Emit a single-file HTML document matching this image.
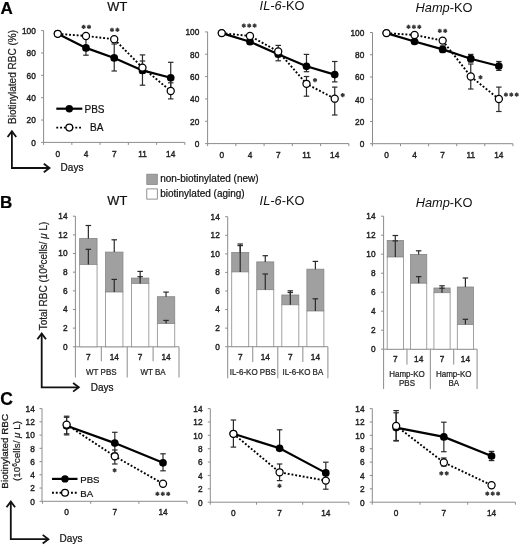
<!DOCTYPE html>
<html><head><meta charset="utf-8"><title>Figure</title>
<style>
html,body{margin:0;padding:0;background:#fff;}
body{width:520px;height:545px;overflow:hidden;}
svg{display:block;font-family:"Liberation Sans", sans-serif;will-change:transform;}
</style></head>
<body>
<svg width="520" height="545" viewBox="0 0 520 545">
<rect width="520" height="545" fill="#fff"/>
<text x="0.60" y="14.00" font-size="17" text-anchor="start" font-weight="bold" font-style="normal" fill="#000" stroke="#000" stroke-width="0.22" >A</text>
<text x="0.00" y="208.20" font-size="17" text-anchor="start" font-weight="bold" font-style="normal" fill="#000" stroke="#000" stroke-width="0.22" >B</text>
<text x="0.20" y="404.60" font-size="17.5" text-anchor="start" font-weight="bold" font-style="normal" fill="#000" stroke="#000" stroke-width="0.22" >C</text>
<text x="117.30" y="11.00" font-size="12.8" text-anchor="middle" font-weight="normal" font-style="normal" fill="#111" stroke="#111" stroke-width="0.22" >WT</text>
<text x="282" y="10.4" font-size="12.8" text-anchor="middle" fill="#111"><tspan font-style="italic">IL-6</tspan>-KO</text>
<text x="444" y="12" font-size="12.8" text-anchor="middle" fill="#111"><tspan font-style="italic">Hamp</tspan>-KO</text>
<line x1="43.60" y1="30.60" x2="43.60" y2="142.40" stroke="#8c8c8c" stroke-width="1" />
<line x1="41.10" y1="30.60" x2="43.60" y2="30.60" stroke="#8c8c8c" stroke-width="1" />
<text transform="translate(35.80 34.00) scale(1 1.1)" font-size="8.3" text-anchor="end" font-weight="normal" font-style="normal" fill="#1e1e1e" stroke="#1e1e1e" stroke-width="0.38" >100</text>
<line x1="41.10" y1="52.96" x2="43.60" y2="52.96" stroke="#8c8c8c" stroke-width="1" />
<text transform="translate(35.80 56.36) scale(1 1.1)" font-size="8.3" text-anchor="end" font-weight="normal" font-style="normal" fill="#1e1e1e" stroke="#1e1e1e" stroke-width="0.38" >80</text>
<line x1="41.10" y1="75.32" x2="43.60" y2="75.32" stroke="#8c8c8c" stroke-width="1" />
<text transform="translate(35.80 78.72) scale(1 1.1)" font-size="8.3" text-anchor="end" font-weight="normal" font-style="normal" fill="#1e1e1e" stroke="#1e1e1e" stroke-width="0.38" >60</text>
<line x1="41.10" y1="97.68" x2="43.60" y2="97.68" stroke="#8c8c8c" stroke-width="1" />
<text transform="translate(35.80 101.08) scale(1 1.1)" font-size="8.3" text-anchor="end" font-weight="normal" font-style="normal" fill="#1e1e1e" stroke="#1e1e1e" stroke-width="0.38" >40</text>
<line x1="41.10" y1="120.04" x2="43.60" y2="120.04" stroke="#8c8c8c" stroke-width="1" />
<text transform="translate(35.80 123.44) scale(1 1.1)" font-size="8.3" text-anchor="end" font-weight="normal" font-style="normal" fill="#1e1e1e" stroke="#1e1e1e" stroke-width="0.38" >20</text>
<line x1="41.10" y1="142.40" x2="43.60" y2="142.40" stroke="#8c8c8c" stroke-width="1" />
<text transform="translate(35.80 145.80) scale(1 1.1)" font-size="8.3" text-anchor="end" font-weight="normal" font-style="normal" fill="#1e1e1e" stroke="#1e1e1e" stroke-width="0.38" >0</text>
<line x1="43.60" y1="142.40" x2="184.85" y2="142.40" stroke="#8c8c8c" stroke-width="1" />
<line x1="43.60" y1="142.40" x2="43.60" y2="144.90" stroke="#8c8c8c" stroke-width="1" />
<line x1="71.85" y1="142.40" x2="71.85" y2="144.90" stroke="#8c8c8c" stroke-width="1" />
<line x1="100.10" y1="142.40" x2="100.10" y2="144.90" stroke="#8c8c8c" stroke-width="1" />
<line x1="128.35" y1="142.40" x2="128.35" y2="144.90" stroke="#8c8c8c" stroke-width="1" />
<line x1="156.60" y1="142.40" x2="156.60" y2="144.90" stroke="#8c8c8c" stroke-width="1" />
<line x1="184.85" y1="142.40" x2="184.85" y2="144.90" stroke="#8c8c8c" stroke-width="1" />
<text transform="translate(57.73 156.80) scale(1 1.1)" font-size="8.3" text-anchor="middle" font-weight="normal" font-style="normal" fill="#1e1e1e" stroke="#1e1e1e" stroke-width="0.38" >0</text>
<text transform="translate(85.97 156.80) scale(1 1.1)" font-size="8.3" text-anchor="middle" font-weight="normal" font-style="normal" fill="#1e1e1e" stroke="#1e1e1e" stroke-width="0.38" >4</text>
<text transform="translate(114.22 156.80) scale(1 1.1)" font-size="8.3" text-anchor="middle" font-weight="normal" font-style="normal" fill="#1e1e1e" stroke="#1e1e1e" stroke-width="0.38" >7</text>
<text transform="translate(142.47 156.80) scale(1 1.1)" font-size="8.3" text-anchor="middle" font-weight="normal" font-style="normal" fill="#1e1e1e" stroke="#1e1e1e" stroke-width="0.38" >11</text>
<text transform="translate(170.72 156.80) scale(1 1.1)" font-size="8.3" text-anchor="middle" font-weight="normal" font-style="normal" fill="#1e1e1e" stroke="#1e1e1e" stroke-width="0.38" >14</text>
<line x1="85.97" y1="37.50" x2="85.97" y2="55.20" stroke="#2a2a2a" stroke-width="1.2" />
<line x1="83.22" y1="37.50" x2="88.72" y2="37.50" stroke="#2a2a2a" stroke-width="1.2" />
<line x1="83.22" y1="55.20" x2="88.72" y2="55.20" stroke="#2a2a2a" stroke-width="1.2" />
<line x1="114.22" y1="44.00" x2="114.22" y2="71.00" stroke="#2a2a2a" stroke-width="1.2" />
<line x1="111.47" y1="44.00" x2="116.97" y2="44.00" stroke="#2a2a2a" stroke-width="1.2" />
<line x1="111.47" y1="71.00" x2="116.97" y2="71.00" stroke="#2a2a2a" stroke-width="1.2" />
<line x1="142.47" y1="54.90" x2="142.47" y2="85.20" stroke="#2a2a2a" stroke-width="1.2" />
<line x1="139.72" y1="54.90" x2="145.22" y2="54.90" stroke="#2a2a2a" stroke-width="1.2" />
<line x1="139.72" y1="85.20" x2="145.22" y2="85.20" stroke="#2a2a2a" stroke-width="1.2" />
<line x1="142.47" y1="61.00" x2="142.47" y2="73.40" stroke="#2a2a2a" stroke-width="1.2" />
<line x1="139.72" y1="61.00" x2="145.22" y2="61.00" stroke="#2a2a2a" stroke-width="1.2" />
<line x1="139.72" y1="73.40" x2="145.22" y2="73.40" stroke="#2a2a2a" stroke-width="1.2" />
<line x1="170.72" y1="62.30" x2="170.72" y2="92.50" stroke="#2a2a2a" stroke-width="1.2" />
<line x1="167.97" y1="62.30" x2="173.47" y2="62.30" stroke="#2a2a2a" stroke-width="1.2" />
<line x1="167.97" y1="92.50" x2="173.47" y2="92.50" stroke="#2a2a2a" stroke-width="1.2" />
<line x1="170.72" y1="82.80" x2="170.72" y2="98.90" stroke="#2a2a2a" stroke-width="1.2" />
<line x1="167.97" y1="82.80" x2="173.47" y2="82.80" stroke="#2a2a2a" stroke-width="1.2" />
<line x1="167.97" y1="98.90" x2="173.47" y2="98.90" stroke="#2a2a2a" stroke-width="1.2" />
<path d="M57.73,33.80 L85.97,47.90 L114.22,57.90 L142.47,70.40 L170.72,77.80" fill="none" stroke="#000" stroke-width="2.2"/>
<circle cx="57.73" cy="33.80" r="3.85" fill="#000"/>
<circle cx="85.97" cy="47.90" r="3.85" fill="#000"/>
<circle cx="114.22" cy="57.90" r="3.85" fill="#000"/>
<circle cx="142.47" cy="70.40" r="3.85" fill="#000"/>
<circle cx="170.72" cy="77.80" r="3.85" fill="#000"/>
<path d="M57.73,33.80 L85.97,36.00 L114.22,39.20 L142.47,67.60 L170.72,91.00" fill="none" stroke="#000" stroke-width="1.9" stroke-dasharray="1.9,1.9"/>
<circle cx="57.73" cy="33.80" r="3.55" fill="#fff" stroke="#000" stroke-width="1.25"/>
<circle cx="85.97" cy="36.00" r="3.55" fill="#fff" stroke="#000" stroke-width="1.25"/>
<circle cx="114.22" cy="39.20" r="3.55" fill="#fff" stroke="#000" stroke-width="1.25"/>
<circle cx="142.47" cy="67.60" r="3.55" fill="#fff" stroke="#000" stroke-width="1.25"/>
<circle cx="170.72" cy="91.00" r="3.55" fill="#fff" stroke="#000" stroke-width="1.25"/>
<line x1="83.60" y1="24.80" x2="83.60" y2="29.00" stroke="#363636" stroke-width="1.35"/>
<line x1="81.78" y1="25.85" x2="85.42" y2="27.95" stroke="#363636" stroke-width="1.35"/>
<line x1="81.78" y1="27.95" x2="85.42" y2="25.85" stroke="#363636" stroke-width="1.35"/>
<line x1="89.00" y1="24.80" x2="89.00" y2="29.00" stroke="#363636" stroke-width="1.35"/>
<line x1="87.18" y1="25.85" x2="90.82" y2="27.95" stroke="#363636" stroke-width="1.35"/>
<line x1="87.18" y1="27.95" x2="90.82" y2="25.85" stroke="#363636" stroke-width="1.35"/>
<line x1="112.00" y1="27.70" x2="112.00" y2="31.90" stroke="#363636" stroke-width="1.35"/>
<line x1="110.18" y1="28.75" x2="113.82" y2="30.85" stroke="#363636" stroke-width="1.35"/>
<line x1="110.18" y1="30.85" x2="113.82" y2="28.75" stroke="#363636" stroke-width="1.35"/>
<line x1="117.40" y1="27.70" x2="117.40" y2="31.90" stroke="#363636" stroke-width="1.35"/>
<line x1="115.58" y1="28.75" x2="119.22" y2="30.85" stroke="#363636" stroke-width="1.35"/>
<line x1="115.58" y1="30.85" x2="119.22" y2="28.75" stroke="#363636" stroke-width="1.35"/>
<line x1="56.30" y1="108.70" x2="82.30" y2="108.70" stroke="#000" stroke-width="2.2" />
<circle cx="69.3" cy="108.7" r="3.7" fill="#000"/>
<text x="84.50" y="112.80" font-size="10" text-anchor="start" font-weight="normal" font-style="normal" fill="#111" stroke="#111" stroke-width="0.22" >PBS</text>
<line x1="56.30" y1="127.60" x2="82.00" y2="127.60" stroke="#000" stroke-width="1.9" stroke-dasharray="1.9,1.9"/>
<circle cx="69.3" cy="127.6" r="3.4" fill="#fff" stroke="#000" stroke-width="1.25"/>
<text x="90.00" y="130.90" font-size="10" text-anchor="start" font-weight="normal" font-style="normal" fill="#111" stroke="#111" stroke-width="0.22" >BA</text>
<text x="16.30" y="77.00" font-size="10" text-anchor="middle" font-weight="normal" font-style="normal" fill="#1e1e1e" stroke="#1e1e1e" stroke-width="0.22" transform="rotate(-90 16.3 77)">Biotinylated RBC (%)</text>
<path d="M11.9,131.5 L11.9,168.0 L49.3,168.0" fill="none" stroke="#111" stroke-width="1.8"/>
<path d="M7.6000000000000005,137.0 L11.9,131.3 L16.2,137.0" fill="none" stroke="#111" stroke-width="1.8"/>
<path d="M43.8,163.7 L49.5,168.0 L43.8,172.3" fill="none" stroke="#111" stroke-width="1.8"/>
<text x="60.60" y="171.20" font-size="10" text-anchor="start" font-weight="normal" font-style="normal" fill="#111" stroke="#111" stroke-width="0.22" >Days</text>
<line x1="207.60" y1="31.90" x2="207.60" y2="143.60" stroke="#8c8c8c" stroke-width="1" />
<line x1="205.10" y1="31.90" x2="207.60" y2="31.90" stroke="#8c8c8c" stroke-width="1" />
<text transform="translate(199.30 35.30) scale(1 1.1)" font-size="8.3" text-anchor="end" font-weight="normal" font-style="normal" fill="#1e1e1e" stroke="#1e1e1e" stroke-width="0.38" >100</text>
<line x1="205.10" y1="54.24" x2="207.60" y2="54.24" stroke="#8c8c8c" stroke-width="1" />
<text transform="translate(199.30 57.64) scale(1 1.1)" font-size="8.3" text-anchor="end" font-weight="normal" font-style="normal" fill="#1e1e1e" stroke="#1e1e1e" stroke-width="0.38" >80</text>
<line x1="205.10" y1="76.58" x2="207.60" y2="76.58" stroke="#8c8c8c" stroke-width="1" />
<text transform="translate(199.30 79.98) scale(1 1.1)" font-size="8.3" text-anchor="end" font-weight="normal" font-style="normal" fill="#1e1e1e" stroke="#1e1e1e" stroke-width="0.38" >60</text>
<line x1="205.10" y1="98.92" x2="207.60" y2="98.92" stroke="#8c8c8c" stroke-width="1" />
<text transform="translate(199.30 102.32) scale(1 1.1)" font-size="8.3" text-anchor="end" font-weight="normal" font-style="normal" fill="#1e1e1e" stroke="#1e1e1e" stroke-width="0.38" >40</text>
<line x1="205.10" y1="121.26" x2="207.60" y2="121.26" stroke="#8c8c8c" stroke-width="1" />
<text transform="translate(199.30 124.66) scale(1 1.1)" font-size="8.3" text-anchor="end" font-weight="normal" font-style="normal" fill="#1e1e1e" stroke="#1e1e1e" stroke-width="0.38" >20</text>
<line x1="205.10" y1="143.60" x2="207.60" y2="143.60" stroke="#8c8c8c" stroke-width="1" />
<text transform="translate(199.30 147.00) scale(1 1.1)" font-size="8.3" text-anchor="end" font-weight="normal" font-style="normal" fill="#1e1e1e" stroke="#1e1e1e" stroke-width="0.38" >0</text>
<line x1="207.60" y1="143.60" x2="348.85" y2="143.60" stroke="#8c8c8c" stroke-width="1" />
<line x1="207.60" y1="143.60" x2="207.60" y2="146.10" stroke="#8c8c8c" stroke-width="1" />
<line x1="235.85" y1="143.60" x2="235.85" y2="146.10" stroke="#8c8c8c" stroke-width="1" />
<line x1="264.10" y1="143.60" x2="264.10" y2="146.10" stroke="#8c8c8c" stroke-width="1" />
<line x1="292.35" y1="143.60" x2="292.35" y2="146.10" stroke="#8c8c8c" stroke-width="1" />
<line x1="320.60" y1="143.60" x2="320.60" y2="146.10" stroke="#8c8c8c" stroke-width="1" />
<line x1="348.85" y1="143.60" x2="348.85" y2="146.10" stroke="#8c8c8c" stroke-width="1" />
<text transform="translate(221.72 158.00) scale(1 1.1)" font-size="8.3" text-anchor="middle" font-weight="normal" font-style="normal" fill="#1e1e1e" stroke="#1e1e1e" stroke-width="0.38" >0</text>
<text transform="translate(249.97 158.00) scale(1 1.1)" font-size="8.3" text-anchor="middle" font-weight="normal" font-style="normal" fill="#1e1e1e" stroke="#1e1e1e" stroke-width="0.38" >4</text>
<text transform="translate(278.23 158.00) scale(1 1.1)" font-size="8.3" text-anchor="middle" font-weight="normal" font-style="normal" fill="#1e1e1e" stroke="#1e1e1e" stroke-width="0.38" >7</text>
<text transform="translate(306.48 158.00) scale(1 1.1)" font-size="8.3" text-anchor="middle" font-weight="normal" font-style="normal" fill="#1e1e1e" stroke="#1e1e1e" stroke-width="0.38" >11</text>
<text transform="translate(334.73 158.00) scale(1 1.1)" font-size="8.3" text-anchor="middle" font-weight="normal" font-style="normal" fill="#1e1e1e" stroke="#1e1e1e" stroke-width="0.38" >14</text>
<line x1="278.23" y1="45.40" x2="278.23" y2="60.80" stroke="#2a2a2a" stroke-width="1.2" />
<line x1="275.48" y1="45.40" x2="280.98" y2="45.40" stroke="#2a2a2a" stroke-width="1.2" />
<line x1="275.48" y1="60.80" x2="280.98" y2="60.80" stroke="#2a2a2a" stroke-width="1.2" />
<line x1="306.48" y1="54.40" x2="306.48" y2="71.70" stroke="#2a2a2a" stroke-width="1.2" />
<line x1="303.73" y1="54.40" x2="309.23" y2="54.40" stroke="#2a2a2a" stroke-width="1.2" />
<line x1="303.73" y1="71.70" x2="309.23" y2="71.70" stroke="#2a2a2a" stroke-width="1.2" />
<line x1="306.48" y1="76.50" x2="306.48" y2="96.20" stroke="#2a2a2a" stroke-width="1.2" />
<line x1="303.73" y1="76.50" x2="309.23" y2="76.50" stroke="#2a2a2a" stroke-width="1.2" />
<line x1="303.73" y1="96.20" x2="309.23" y2="96.20" stroke="#2a2a2a" stroke-width="1.2" />
<line x1="334.73" y1="61.50" x2="334.73" y2="81.90" stroke="#2a2a2a" stroke-width="1.2" />
<line x1="331.98" y1="61.50" x2="337.48" y2="61.50" stroke="#2a2a2a" stroke-width="1.2" />
<line x1="331.98" y1="81.90" x2="337.48" y2="81.90" stroke="#2a2a2a" stroke-width="1.2" />
<line x1="334.73" y1="87.10" x2="334.73" y2="115.00" stroke="#2a2a2a" stroke-width="1.2" />
<line x1="331.98" y1="87.10" x2="337.48" y2="87.10" stroke="#2a2a2a" stroke-width="1.2" />
<line x1="331.98" y1="115.00" x2="337.48" y2="115.00" stroke="#2a2a2a" stroke-width="1.2" />
<path d="M221.72,33.10 L249.97,41.70 L278.23,54.20 L306.48,66.30 L334.73,74.60" fill="none" stroke="#000" stroke-width="2.2"/>
<circle cx="221.72" cy="33.10" r="3.85" fill="#000"/>
<circle cx="249.97" cy="41.70" r="3.85" fill="#000"/>
<circle cx="278.23" cy="54.20" r="3.85" fill="#000"/>
<circle cx="306.48" cy="66.30" r="3.85" fill="#000"/>
<circle cx="334.73" cy="74.60" r="3.85" fill="#000"/>
<path d="M221.72,33.10 L249.97,36.00 L278.23,51.50 L306.48,83.80 L334.73,98.70" fill="none" stroke="#000" stroke-width="1.9" stroke-dasharray="1.9,1.9"/>
<circle cx="221.72" cy="33.10" r="3.55" fill="#fff" stroke="#000" stroke-width="1.25"/>
<circle cx="249.97" cy="36.00" r="3.55" fill="#fff" stroke="#000" stroke-width="1.25"/>
<circle cx="278.23" cy="51.50" r="3.55" fill="#fff" stroke="#000" stroke-width="1.25"/>
<circle cx="306.48" cy="83.80" r="3.55" fill="#fff" stroke="#000" stroke-width="1.25"/>
<circle cx="334.73" cy="98.70" r="3.55" fill="#fff" stroke="#000" stroke-width="1.25"/>
<line x1="243.80" y1="23.50" x2="243.80" y2="27.70" stroke="#363636" stroke-width="1.35"/>
<line x1="241.98" y1="24.55" x2="245.62" y2="26.65" stroke="#363636" stroke-width="1.35"/>
<line x1="241.98" y1="26.65" x2="245.62" y2="24.55" stroke="#363636" stroke-width="1.35"/>
<line x1="249.20" y1="23.50" x2="249.20" y2="27.70" stroke="#363636" stroke-width="1.35"/>
<line x1="247.38" y1="24.55" x2="251.02" y2="26.65" stroke="#363636" stroke-width="1.35"/>
<line x1="247.38" y1="26.65" x2="251.02" y2="24.55" stroke="#363636" stroke-width="1.35"/>
<line x1="254.60" y1="23.50" x2="254.60" y2="27.70" stroke="#363636" stroke-width="1.35"/>
<line x1="252.78" y1="24.55" x2="256.42" y2="26.65" stroke="#363636" stroke-width="1.35"/>
<line x1="252.78" y1="26.65" x2="256.42" y2="24.55" stroke="#363636" stroke-width="1.35"/>
<line x1="315.00" y1="78.00" x2="315.00" y2="82.20" stroke="#363636" stroke-width="1.35"/>
<line x1="313.18" y1="79.05" x2="316.82" y2="81.15" stroke="#363636" stroke-width="1.35"/>
<line x1="313.18" y1="81.15" x2="316.82" y2="79.05" stroke="#363636" stroke-width="1.35"/>
<line x1="342.70" y1="93.00" x2="342.70" y2="97.20" stroke="#363636" stroke-width="1.35"/>
<line x1="340.88" y1="94.05" x2="344.52" y2="96.15" stroke="#363636" stroke-width="1.35"/>
<line x1="340.88" y1="96.15" x2="344.52" y2="94.05" stroke="#363636" stroke-width="1.35"/>
<line x1="372.50" y1="32.50" x2="372.50" y2="143.70" stroke="#8c8c8c" stroke-width="1" />
<line x1="370.00" y1="32.50" x2="372.50" y2="32.50" stroke="#8c8c8c" stroke-width="1" />
<text transform="translate(364.30 35.90) scale(1 1.1)" font-size="8.3" text-anchor="end" font-weight="normal" font-style="normal" fill="#1e1e1e" stroke="#1e1e1e" stroke-width="0.38" >100</text>
<line x1="370.00" y1="54.74" x2="372.50" y2="54.74" stroke="#8c8c8c" stroke-width="1" />
<text transform="translate(364.30 58.14) scale(1 1.1)" font-size="8.3" text-anchor="end" font-weight="normal" font-style="normal" fill="#1e1e1e" stroke="#1e1e1e" stroke-width="0.38" >80</text>
<line x1="370.00" y1="76.98" x2="372.50" y2="76.98" stroke="#8c8c8c" stroke-width="1" />
<text transform="translate(364.30 80.38) scale(1 1.1)" font-size="8.3" text-anchor="end" font-weight="normal" font-style="normal" fill="#1e1e1e" stroke="#1e1e1e" stroke-width="0.38" >60</text>
<line x1="370.00" y1="99.22" x2="372.50" y2="99.22" stroke="#8c8c8c" stroke-width="1" />
<text transform="translate(364.30 102.62) scale(1 1.1)" font-size="8.3" text-anchor="end" font-weight="normal" font-style="normal" fill="#1e1e1e" stroke="#1e1e1e" stroke-width="0.38" >40</text>
<line x1="370.00" y1="121.46" x2="372.50" y2="121.46" stroke="#8c8c8c" stroke-width="1" />
<text transform="translate(364.30 124.86) scale(1 1.1)" font-size="8.3" text-anchor="end" font-weight="normal" font-style="normal" fill="#1e1e1e" stroke="#1e1e1e" stroke-width="0.38" >20</text>
<line x1="370.00" y1="143.70" x2="372.50" y2="143.70" stroke="#8c8c8c" stroke-width="1" />
<text transform="translate(364.30 147.10) scale(1 1.1)" font-size="8.3" text-anchor="end" font-weight="normal" font-style="normal" fill="#1e1e1e" stroke="#1e1e1e" stroke-width="0.38" >0</text>
<line x1="372.50" y1="143.70" x2="512.90" y2="143.70" stroke="#8c8c8c" stroke-width="1" />
<line x1="372.40" y1="143.70" x2="372.40" y2="146.20" stroke="#8c8c8c" stroke-width="1" />
<line x1="400.50" y1="143.70" x2="400.50" y2="146.20" stroke="#8c8c8c" stroke-width="1" />
<line x1="428.60" y1="143.70" x2="428.60" y2="146.20" stroke="#8c8c8c" stroke-width="1" />
<line x1="456.70" y1="143.70" x2="456.70" y2="146.20" stroke="#8c8c8c" stroke-width="1" />
<line x1="484.80" y1="143.70" x2="484.80" y2="146.20" stroke="#8c8c8c" stroke-width="1" />
<line x1="512.90" y1="143.70" x2="512.90" y2="146.20" stroke="#8c8c8c" stroke-width="1" />
<text transform="translate(386.45 158.10) scale(1 1.1)" font-size="8.3" text-anchor="middle" font-weight="normal" font-style="normal" fill="#1e1e1e" stroke="#1e1e1e" stroke-width="0.38" >0</text>
<text transform="translate(414.55 158.10) scale(1 1.1)" font-size="8.3" text-anchor="middle" font-weight="normal" font-style="normal" fill="#1e1e1e" stroke="#1e1e1e" stroke-width="0.38" >4</text>
<text transform="translate(442.65 158.10) scale(1 1.1)" font-size="8.3" text-anchor="middle" font-weight="normal" font-style="normal" fill="#1e1e1e" stroke="#1e1e1e" stroke-width="0.38" >7</text>
<text transform="translate(470.75 158.10) scale(1 1.1)" font-size="8.3" text-anchor="middle" font-weight="normal" font-style="normal" fill="#1e1e1e" stroke="#1e1e1e" stroke-width="0.38" >11</text>
<text transform="translate(498.85 158.10) scale(1 1.1)" font-size="8.3" text-anchor="middle" font-weight="normal" font-style="normal" fill="#1e1e1e" stroke="#1e1e1e" stroke-width="0.38" >14</text>
<line x1="442.65" y1="46.00" x2="442.65" y2="52.50" stroke="#2a2a2a" stroke-width="1.2" />
<line x1="439.90" y1="46.00" x2="445.40" y2="46.00" stroke="#2a2a2a" stroke-width="1.2" />
<line x1="439.90" y1="52.50" x2="445.40" y2="52.50" stroke="#2a2a2a" stroke-width="1.2" />
<line x1="470.75" y1="54.40" x2="470.75" y2="62.00" stroke="#2a2a2a" stroke-width="1.2" />
<line x1="468.00" y1="54.40" x2="473.50" y2="54.40" stroke="#2a2a2a" stroke-width="1.2" />
<line x1="468.00" y1="62.00" x2="473.50" y2="62.00" stroke="#2a2a2a" stroke-width="1.2" />
<line x1="470.75" y1="64.00" x2="470.75" y2="89.00" stroke="#2a2a2a" stroke-width="1.2" />
<line x1="468.00" y1="64.00" x2="473.50" y2="64.00" stroke="#2a2a2a" stroke-width="1.2" />
<line x1="468.00" y1="89.00" x2="473.50" y2="89.00" stroke="#2a2a2a" stroke-width="1.2" />
<line x1="498.85" y1="61.50" x2="498.85" y2="70.40" stroke="#2a2a2a" stroke-width="1.2" />
<line x1="496.10" y1="61.50" x2="501.60" y2="61.50" stroke="#2a2a2a" stroke-width="1.2" />
<line x1="496.10" y1="70.40" x2="501.60" y2="70.40" stroke="#2a2a2a" stroke-width="1.2" />
<line x1="498.85" y1="87.10" x2="498.85" y2="111.50" stroke="#2a2a2a" stroke-width="1.2" />
<line x1="496.10" y1="87.10" x2="501.60" y2="87.10" stroke="#2a2a2a" stroke-width="1.2" />
<line x1="496.10" y1="111.50" x2="501.60" y2="111.50" stroke="#2a2a2a" stroke-width="1.2" />
<path d="M386.45,33.10 L414.55,41.50 L442.65,49.40 L470.75,58.70 L498.85,66.00" fill="none" stroke="#000" stroke-width="2.2"/>
<circle cx="386.45" cy="33.10" r="3.85" fill="#000"/>
<circle cx="414.55" cy="41.50" r="3.85" fill="#000"/>
<circle cx="442.65" cy="49.40" r="3.85" fill="#000"/>
<circle cx="470.75" cy="58.70" r="3.85" fill="#000"/>
<circle cx="498.85" cy="66.00" r="3.85" fill="#000"/>
<path d="M386.45,33.10 L414.55,35.00 L442.65,40.60 L470.75,76.50 L498.85,99.00" fill="none" stroke="#000" stroke-width="1.9" stroke-dasharray="1.9,1.9"/>
<circle cx="386.45" cy="33.10" r="3.55" fill="#fff" stroke="#000" stroke-width="1.25"/>
<circle cx="414.55" cy="35.00" r="3.55" fill="#fff" stroke="#000" stroke-width="1.25"/>
<circle cx="442.65" cy="40.60" r="3.55" fill="#fff" stroke="#000" stroke-width="1.25"/>
<circle cx="470.75" cy="76.50" r="3.55" fill="#fff" stroke="#000" stroke-width="1.25"/>
<circle cx="498.85" cy="99.00" r="3.55" fill="#fff" stroke="#000" stroke-width="1.25"/>
<line x1="408.50" y1="24.70" x2="408.50" y2="28.90" stroke="#363636" stroke-width="1.35"/>
<line x1="406.68" y1="25.75" x2="410.32" y2="27.85" stroke="#363636" stroke-width="1.35"/>
<line x1="406.68" y1="27.85" x2="410.32" y2="25.75" stroke="#363636" stroke-width="1.35"/>
<line x1="413.90" y1="24.70" x2="413.90" y2="28.90" stroke="#363636" stroke-width="1.35"/>
<line x1="412.08" y1="25.75" x2="415.72" y2="27.85" stroke="#363636" stroke-width="1.35"/>
<line x1="412.08" y1="27.85" x2="415.72" y2="25.75" stroke="#363636" stroke-width="1.35"/>
<line x1="419.30" y1="24.70" x2="419.30" y2="28.90" stroke="#363636" stroke-width="1.35"/>
<line x1="417.48" y1="25.75" x2="421.12" y2="27.85" stroke="#363636" stroke-width="1.35"/>
<line x1="417.48" y1="27.85" x2="421.12" y2="25.75" stroke="#363636" stroke-width="1.35"/>
<line x1="439.80" y1="28.70" x2="439.80" y2="32.90" stroke="#363636" stroke-width="1.35"/>
<line x1="437.98" y1="29.75" x2="441.62" y2="31.85" stroke="#363636" stroke-width="1.35"/>
<line x1="437.98" y1="31.85" x2="441.62" y2="29.75" stroke="#363636" stroke-width="1.35"/>
<line x1="445.20" y1="28.70" x2="445.20" y2="32.90" stroke="#363636" stroke-width="1.35"/>
<line x1="443.38" y1="29.75" x2="447.02" y2="31.85" stroke="#363636" stroke-width="1.35"/>
<line x1="443.38" y1="31.85" x2="447.02" y2="29.75" stroke="#363636" stroke-width="1.35"/>
<line x1="480.50" y1="75.20" x2="480.50" y2="79.40" stroke="#363636" stroke-width="1.35"/>
<line x1="478.68" y1="76.25" x2="482.32" y2="78.35" stroke="#363636" stroke-width="1.35"/>
<line x1="478.68" y1="78.35" x2="482.32" y2="76.25" stroke="#363636" stroke-width="1.35"/>
<line x1="505.90" y1="92.50" x2="505.90" y2="96.70" stroke="#363636" stroke-width="1.35"/>
<line x1="504.08" y1="93.55" x2="507.72" y2="95.65" stroke="#363636" stroke-width="1.35"/>
<line x1="504.08" y1="95.65" x2="507.72" y2="93.55" stroke="#363636" stroke-width="1.35"/>
<line x1="511.30" y1="92.50" x2="511.30" y2="96.70" stroke="#363636" stroke-width="1.35"/>
<line x1="509.48" y1="93.55" x2="513.12" y2="95.65" stroke="#363636" stroke-width="1.35"/>
<line x1="509.48" y1="95.65" x2="513.12" y2="93.55" stroke="#363636" stroke-width="1.35"/>
<line x1="516.70" y1="92.50" x2="516.70" y2="96.70" stroke="#363636" stroke-width="1.35"/>
<line x1="514.88" y1="93.55" x2="518.52" y2="95.65" stroke="#363636" stroke-width="1.35"/>
<line x1="514.88" y1="95.65" x2="518.52" y2="93.55" stroke="#363636" stroke-width="1.35"/>
<rect x="146.8" y="174.2" width="10.5" height="10.2" fill="#a0a0a0" stroke="#858585" stroke-width="0.8"/>
<rect x="146.8" y="188.9" width="10.5" height="10.2" fill="#fff" stroke="#777" stroke-width="0.8"/>
<text x="160.20" y="182.30" font-size="10" text-anchor="start" font-weight="normal" font-style="normal" fill="#111" stroke="#111" stroke-width="0.22" >non-biotinylated (new)</text>
<text x="160.20" y="196.60" font-size="10" text-anchor="start" font-weight="normal" font-style="normal" fill="#111" stroke="#111" stroke-width="0.22" >biotinylated (aging)</text>
<text x="117.30" y="205.30" font-size="12.8" text-anchor="middle" font-weight="normal" font-style="normal" fill="#111" stroke="#111" stroke-width="0.22" >WT</text>
<text x="282" y="204.6" font-size="12.8" text-anchor="middle" fill="#111"><tspan font-style="italic">IL-6</tspan>-KO</text>
<text x="444.1" y="206.8" font-size="12.8" text-anchor="middle" fill="#111"><tspan font-style="italic">Hamp</tspan>-KO</text>
<line x1="75.40" y1="216.20" x2="75.40" y2="346.80" stroke="#8c8c8c" stroke-width="1" />
<line x1="72.90" y1="216.20" x2="75.40" y2="216.20" stroke="#8c8c8c" stroke-width="1" />
<text transform="translate(67.50 219.10) scale(1 1.1)" font-size="8.3" text-anchor="end" font-weight="normal" font-style="normal" fill="#1e1e1e" stroke="#1e1e1e" stroke-width="0.38" >14</text>
<line x1="72.90" y1="234.86" x2="75.40" y2="234.86" stroke="#8c8c8c" stroke-width="1" />
<text transform="translate(67.50 237.76) scale(1 1.1)" font-size="8.3" text-anchor="end" font-weight="normal" font-style="normal" fill="#1e1e1e" stroke="#1e1e1e" stroke-width="0.38" >12</text>
<line x1="72.90" y1="253.51" x2="75.40" y2="253.51" stroke="#8c8c8c" stroke-width="1" />
<text transform="translate(67.50 256.41) scale(1 1.1)" font-size="8.3" text-anchor="end" font-weight="normal" font-style="normal" fill="#1e1e1e" stroke="#1e1e1e" stroke-width="0.38" >10</text>
<line x1="72.90" y1="272.17" x2="75.40" y2="272.17" stroke="#8c8c8c" stroke-width="1" />
<text transform="translate(67.50 275.07) scale(1 1.1)" font-size="8.3" text-anchor="end" font-weight="normal" font-style="normal" fill="#1e1e1e" stroke="#1e1e1e" stroke-width="0.38" >8</text>
<line x1="72.90" y1="290.83" x2="75.40" y2="290.83" stroke="#8c8c8c" stroke-width="1" />
<text transform="translate(67.50 293.73) scale(1 1.1)" font-size="8.3" text-anchor="end" font-weight="normal" font-style="normal" fill="#1e1e1e" stroke="#1e1e1e" stroke-width="0.38" >6</text>
<line x1="72.90" y1="309.49" x2="75.40" y2="309.49" stroke="#8c8c8c" stroke-width="1" />
<text transform="translate(67.50 312.39) scale(1 1.1)" font-size="8.3" text-anchor="end" font-weight="normal" font-style="normal" fill="#1e1e1e" stroke="#1e1e1e" stroke-width="0.38" >4</text>
<line x1="72.90" y1="328.14" x2="75.40" y2="328.14" stroke="#8c8c8c" stroke-width="1" />
<text transform="translate(67.50 331.04) scale(1 1.1)" font-size="8.3" text-anchor="end" font-weight="normal" font-style="normal" fill="#1e1e1e" stroke="#1e1e1e" stroke-width="0.38" >2</text>
<line x1="72.90" y1="346.80" x2="75.40" y2="346.80" stroke="#8c8c8c" stroke-width="1" />
<text transform="translate(67.50 349.70) scale(1 1.1)" font-size="8.3" text-anchor="end" font-weight="normal" font-style="normal" fill="#1e1e1e" stroke="#1e1e1e" stroke-width="0.38" >0</text>
<line x1="75.40" y1="346.80" x2="179.00" y2="346.80" stroke="#8c8c8c" stroke-width="1" />
<line x1="75.40" y1="346.80" x2="75.40" y2="377.50" stroke="#8c8c8c" stroke-width="1" />
<line x1="101.30" y1="346.80" x2="101.30" y2="361.30" stroke="#8c8c8c" stroke-width="1" />
<line x1="127.20" y1="346.80" x2="127.20" y2="377.50" stroke="#8c8c8c" stroke-width="1" />
<line x1="153.10" y1="346.80" x2="153.10" y2="361.30" stroke="#8c8c8c" stroke-width="1" />
<line x1="179.00" y1="346.80" x2="179.00" y2="377.50" stroke="#8c8c8c" stroke-width="1" />
<rect x="79.65" y="238.40" width="17.4" height="26.10" fill="#a0a0a0" stroke="#858585" stroke-width="0.8"/>
<rect x="79.65" y="264.50" width="17.4" height="82.30" fill="#fff" stroke="#8a8a8a" stroke-width="0.8"/>
<line x1="88.35" y1="225.50" x2="88.35" y2="238.40" stroke="#2a2a2a" stroke-width="1.2" />
<line x1="85.60" y1="225.50" x2="91.10" y2="225.50" stroke="#2a2a2a" stroke-width="1.2" />
<line x1="88.35" y1="249.30" x2="88.35" y2="264.50" stroke="#2a2a2a" stroke-width="1.2" />
<line x1="85.60" y1="249.30" x2="91.10" y2="249.30" stroke="#2a2a2a" stroke-width="1.2" />
<text transform="translate(88.35 360.20) scale(1 1.1)" font-size="8.3" text-anchor="middle" font-weight="normal" font-style="normal" fill="#1e1e1e" stroke="#1e1e1e" stroke-width="0.38" >7</text>
<rect x="105.55" y="252.10" width="17.4" height="39.90" fill="#a0a0a0" stroke="#858585" stroke-width="0.8"/>
<rect x="105.55" y="292.00" width="17.4" height="54.80" fill="#fff" stroke="#8a8a8a" stroke-width="0.8"/>
<line x1="114.25" y1="239.80" x2="114.25" y2="252.10" stroke="#2a2a2a" stroke-width="1.2" />
<line x1="111.50" y1="239.80" x2="117.00" y2="239.80" stroke="#2a2a2a" stroke-width="1.2" />
<line x1="114.25" y1="279.40" x2="114.25" y2="292.00" stroke="#2a2a2a" stroke-width="1.2" />
<line x1="111.50" y1="279.40" x2="117.00" y2="279.40" stroke="#2a2a2a" stroke-width="1.2" />
<text transform="translate(114.25 360.20) scale(1 1.1)" font-size="8.3" text-anchor="middle" font-weight="normal" font-style="normal" fill="#1e1e1e" stroke="#1e1e1e" stroke-width="0.38" >14</text>
<rect x="131.45" y="278.10" width="17.4" height="5.40" fill="#a0a0a0" stroke="#858585" stroke-width="0.8"/>
<rect x="131.45" y="283.50" width="17.4" height="63.30" fill="#fff" stroke="#8a8a8a" stroke-width="0.8"/>
<line x1="140.15" y1="271.40" x2="140.15" y2="278.10" stroke="#2a2a2a" stroke-width="1.2" />
<line x1="137.40" y1="271.40" x2="142.90" y2="271.40" stroke="#2a2a2a" stroke-width="1.2" />
<line x1="140.15" y1="276.70" x2="140.15" y2="283.50" stroke="#2a2a2a" stroke-width="1.2" />
<line x1="137.40" y1="276.70" x2="142.90" y2="276.70" stroke="#2a2a2a" stroke-width="1.2" />
<text transform="translate(140.15 360.20) scale(1 1.1)" font-size="8.3" text-anchor="middle" font-weight="normal" font-style="normal" fill="#1e1e1e" stroke="#1e1e1e" stroke-width="0.38" >7</text>
<rect x="157.35" y="296.70" width="17.4" height="26.90" fill="#a0a0a0" stroke="#858585" stroke-width="0.8"/>
<rect x="157.35" y="323.60" width="17.4" height="23.20" fill="#fff" stroke="#8a8a8a" stroke-width="0.8"/>
<line x1="166.05" y1="292.10" x2="166.05" y2="296.70" stroke="#2a2a2a" stroke-width="1.2" />
<line x1="163.30" y1="292.10" x2="168.80" y2="292.10" stroke="#2a2a2a" stroke-width="1.2" />
<line x1="166.05" y1="320.40" x2="166.05" y2="323.60" stroke="#2a2a2a" stroke-width="1.2" />
<line x1="163.30" y1="320.40" x2="168.80" y2="320.40" stroke="#2a2a2a" stroke-width="1.2" />
<text transform="translate(166.05 360.20) scale(1 1.1)" font-size="8.3" text-anchor="middle" font-weight="normal" font-style="normal" fill="#1e1e1e" stroke="#1e1e1e" stroke-width="0.38" >14</text>
<text transform="translate(101.30 374.50) scale(1 1.08)" font-size="8.0" text-anchor="middle" font-weight="normal" font-style="normal" fill="#1e1e1e" stroke="#1e1e1e" stroke-width="0.22" >WT PBS</text>
<text transform="translate(153.10 374.50) scale(1 1.08)" font-size="8.0" text-anchor="middle" font-weight="normal" font-style="normal" fill="#1e1e1e" stroke="#1e1e1e" stroke-width="0.22" >WT BA</text>
<line x1="227.70" y1="216.70" x2="227.70" y2="346.70" stroke="#8c8c8c" stroke-width="1" />
<line x1="225.20" y1="216.70" x2="227.70" y2="216.70" stroke="#8c8c8c" stroke-width="1" />
<text transform="translate(219.80 219.60) scale(1 1.1)" font-size="8.3" text-anchor="end" font-weight="normal" font-style="normal" fill="#1e1e1e" stroke="#1e1e1e" stroke-width="0.38" >14</text>
<line x1="225.20" y1="235.27" x2="227.70" y2="235.27" stroke="#8c8c8c" stroke-width="1" />
<text transform="translate(219.80 238.17) scale(1 1.1)" font-size="8.3" text-anchor="end" font-weight="normal" font-style="normal" fill="#1e1e1e" stroke="#1e1e1e" stroke-width="0.38" >12</text>
<line x1="225.20" y1="253.84" x2="227.70" y2="253.84" stroke="#8c8c8c" stroke-width="1" />
<text transform="translate(219.80 256.74) scale(1 1.1)" font-size="8.3" text-anchor="end" font-weight="normal" font-style="normal" fill="#1e1e1e" stroke="#1e1e1e" stroke-width="0.38" >10</text>
<line x1="225.20" y1="272.41" x2="227.70" y2="272.41" stroke="#8c8c8c" stroke-width="1" />
<text transform="translate(219.80 275.31) scale(1 1.1)" font-size="8.3" text-anchor="end" font-weight="normal" font-style="normal" fill="#1e1e1e" stroke="#1e1e1e" stroke-width="0.38" >8</text>
<line x1="225.20" y1="290.99" x2="227.70" y2="290.99" stroke="#8c8c8c" stroke-width="1" />
<text transform="translate(219.80 293.89) scale(1 1.1)" font-size="8.3" text-anchor="end" font-weight="normal" font-style="normal" fill="#1e1e1e" stroke="#1e1e1e" stroke-width="0.38" >6</text>
<line x1="225.20" y1="309.56" x2="227.70" y2="309.56" stroke="#8c8c8c" stroke-width="1" />
<text transform="translate(219.80 312.46) scale(1 1.1)" font-size="8.3" text-anchor="end" font-weight="normal" font-style="normal" fill="#1e1e1e" stroke="#1e1e1e" stroke-width="0.38" >4</text>
<line x1="225.20" y1="328.13" x2="227.70" y2="328.13" stroke="#8c8c8c" stroke-width="1" />
<text transform="translate(219.80 331.03) scale(1 1.1)" font-size="8.3" text-anchor="end" font-weight="normal" font-style="normal" fill="#1e1e1e" stroke="#1e1e1e" stroke-width="0.38" >2</text>
<line x1="225.20" y1="346.70" x2="227.70" y2="346.70" stroke="#8c8c8c" stroke-width="1" />
<text transform="translate(219.80 349.60) scale(1 1.1)" font-size="8.3" text-anchor="end" font-weight="normal" font-style="normal" fill="#1e1e1e" stroke="#1e1e1e" stroke-width="0.38" >0</text>
<line x1="227.70" y1="346.70" x2="327.90" y2="346.70" stroke="#8c8c8c" stroke-width="1" />
<line x1="227.70" y1="346.70" x2="227.70" y2="378.30" stroke="#8c8c8c" stroke-width="1" />
<line x1="252.75" y1="346.70" x2="252.75" y2="362.00" stroke="#8c8c8c" stroke-width="1" />
<line x1="277.80" y1="346.70" x2="277.80" y2="378.30" stroke="#8c8c8c" stroke-width="1" />
<line x1="302.85" y1="346.70" x2="302.85" y2="362.00" stroke="#8c8c8c" stroke-width="1" />
<line x1="327.90" y1="346.70" x2="327.90" y2="378.30" stroke="#8c8c8c" stroke-width="1" />
<rect x="231.72" y="252.50" width="17.0" height="19.40" fill="#a0a0a0" stroke="#858585" stroke-width="0.8"/>
<rect x="231.72" y="271.90" width="17.0" height="74.80" fill="#fff" stroke="#8a8a8a" stroke-width="0.8"/>
<line x1="240.22" y1="244.00" x2="240.22" y2="252.50" stroke="#2a2a2a" stroke-width="1.2" />
<line x1="237.47" y1="244.00" x2="242.97" y2="244.00" stroke="#2a2a2a" stroke-width="1.2" />
<line x1="240.22" y1="245.60" x2="240.22" y2="271.90" stroke="#2a2a2a" stroke-width="1.2" />
<line x1="237.47" y1="245.60" x2="242.97" y2="245.60" stroke="#2a2a2a" stroke-width="1.2" />
<text transform="translate(240.22 360.00) scale(1 1.1)" font-size="8.3" text-anchor="middle" font-weight="normal" font-style="normal" fill="#1e1e1e" stroke="#1e1e1e" stroke-width="0.38" >7</text>
<rect x="256.77" y="261.90" width="17.0" height="27.80" fill="#a0a0a0" stroke="#858585" stroke-width="0.8"/>
<rect x="256.77" y="289.70" width="17.0" height="57.00" fill="#fff" stroke="#8a8a8a" stroke-width="0.8"/>
<line x1="265.27" y1="255.70" x2="265.27" y2="261.90" stroke="#2a2a2a" stroke-width="1.2" />
<line x1="262.52" y1="255.70" x2="268.02" y2="255.70" stroke="#2a2a2a" stroke-width="1.2" />
<line x1="265.27" y1="274.00" x2="265.27" y2="289.70" stroke="#2a2a2a" stroke-width="1.2" />
<line x1="262.52" y1="274.00" x2="268.02" y2="274.00" stroke="#2a2a2a" stroke-width="1.2" />
<text transform="translate(265.27 360.00) scale(1 1.1)" font-size="8.3" text-anchor="middle" font-weight="normal" font-style="normal" fill="#1e1e1e" stroke="#1e1e1e" stroke-width="0.38" >14</text>
<rect x="281.82" y="295.00" width="17.0" height="9.80" fill="#a0a0a0" stroke="#858585" stroke-width="0.8"/>
<rect x="281.82" y="304.80" width="17.0" height="41.90" fill="#fff" stroke="#8a8a8a" stroke-width="0.8"/>
<line x1="290.32" y1="290.80" x2="290.32" y2="295.00" stroke="#2a2a2a" stroke-width="1.2" />
<line x1="287.57" y1="290.80" x2="293.07" y2="290.80" stroke="#2a2a2a" stroke-width="1.2" />
<line x1="290.32" y1="292.50" x2="290.32" y2="304.80" stroke="#2a2a2a" stroke-width="1.2" />
<line x1="287.57" y1="292.50" x2="293.07" y2="292.50" stroke="#2a2a2a" stroke-width="1.2" />
<text transform="translate(290.32 360.00) scale(1 1.1)" font-size="8.3" text-anchor="middle" font-weight="normal" font-style="normal" fill="#1e1e1e" stroke="#1e1e1e" stroke-width="0.38" >7</text>
<rect x="306.88" y="269.20" width="17.0" height="41.80" fill="#a0a0a0" stroke="#858585" stroke-width="0.8"/>
<rect x="306.88" y="311.00" width="17.0" height="35.70" fill="#fff" stroke="#8a8a8a" stroke-width="0.8"/>
<line x1="315.38" y1="261.40" x2="315.38" y2="269.20" stroke="#2a2a2a" stroke-width="1.2" />
<line x1="312.62" y1="261.40" x2="318.12" y2="261.40" stroke="#2a2a2a" stroke-width="1.2" />
<line x1="315.38" y1="298.80" x2="315.38" y2="311.00" stroke="#2a2a2a" stroke-width="1.2" />
<line x1="312.62" y1="298.80" x2="318.12" y2="298.80" stroke="#2a2a2a" stroke-width="1.2" />
<text transform="translate(315.38 360.00) scale(1 1.1)" font-size="8.3" text-anchor="middle" font-weight="normal" font-style="normal" fill="#1e1e1e" stroke="#1e1e1e" stroke-width="0.38" >14</text>
<text transform="translate(252.75 374.80) scale(1 1.08)" font-size="8.0" text-anchor="middle" font-weight="normal" font-style="normal" fill="#1e1e1e" stroke="#1e1e1e" stroke-width="0.22" >IL-6-KO PBS</text>
<text transform="translate(302.85 374.80) scale(1 1.08)" font-size="8.0" text-anchor="middle" font-weight="normal" font-style="normal" fill="#1e1e1e" stroke="#1e1e1e" stroke-width="0.22" >IL-6-KO BA</text>
<line x1="383.60" y1="216.20" x2="383.60" y2="349.20" stroke="#8c8c8c" stroke-width="1" />
<line x1="381.10" y1="216.20" x2="383.60" y2="216.20" stroke="#8c8c8c" stroke-width="1" />
<text transform="translate(375.60 219.10) scale(1 1.1)" font-size="8.3" text-anchor="end" font-weight="normal" font-style="normal" fill="#1e1e1e" stroke="#1e1e1e" stroke-width="0.38" >14</text>
<line x1="381.10" y1="235.20" x2="383.60" y2="235.20" stroke="#8c8c8c" stroke-width="1" />
<text transform="translate(375.60 238.10) scale(1 1.1)" font-size="8.3" text-anchor="end" font-weight="normal" font-style="normal" fill="#1e1e1e" stroke="#1e1e1e" stroke-width="0.38" >12</text>
<line x1="381.10" y1="254.20" x2="383.60" y2="254.20" stroke="#8c8c8c" stroke-width="1" />
<text transform="translate(375.60 257.10) scale(1 1.1)" font-size="8.3" text-anchor="end" font-weight="normal" font-style="normal" fill="#1e1e1e" stroke="#1e1e1e" stroke-width="0.38" >10</text>
<line x1="381.10" y1="273.20" x2="383.60" y2="273.20" stroke="#8c8c8c" stroke-width="1" />
<text transform="translate(375.60 276.10) scale(1 1.1)" font-size="8.3" text-anchor="end" font-weight="normal" font-style="normal" fill="#1e1e1e" stroke="#1e1e1e" stroke-width="0.38" >8</text>
<line x1="381.10" y1="292.20" x2="383.60" y2="292.20" stroke="#8c8c8c" stroke-width="1" />
<text transform="translate(375.60 295.10) scale(1 1.1)" font-size="8.3" text-anchor="end" font-weight="normal" font-style="normal" fill="#1e1e1e" stroke="#1e1e1e" stroke-width="0.38" >6</text>
<line x1="381.10" y1="311.20" x2="383.60" y2="311.20" stroke="#8c8c8c" stroke-width="1" />
<text transform="translate(375.60 314.10) scale(1 1.1)" font-size="8.3" text-anchor="end" font-weight="normal" font-style="normal" fill="#1e1e1e" stroke="#1e1e1e" stroke-width="0.38" >4</text>
<line x1="381.10" y1="330.20" x2="383.60" y2="330.20" stroke="#8c8c8c" stroke-width="1" />
<text transform="translate(375.60 333.10) scale(1 1.1)" font-size="8.3" text-anchor="end" font-weight="normal" font-style="normal" fill="#1e1e1e" stroke="#1e1e1e" stroke-width="0.38" >2</text>
<line x1="381.10" y1="349.20" x2="383.60" y2="349.20" stroke="#8c8c8c" stroke-width="1" />
<text transform="translate(375.60 352.10) scale(1 1.1)" font-size="8.3" text-anchor="end" font-weight="normal" font-style="normal" fill="#1e1e1e" stroke="#1e1e1e" stroke-width="0.38" >0</text>
<line x1="383.60" y1="349.20" x2="477.08" y2="349.20" stroke="#8c8c8c" stroke-width="1" />
<line x1="383.60" y1="349.20" x2="383.60" y2="389.00" stroke="#8c8c8c" stroke-width="1" />
<line x1="406.97" y1="349.20" x2="406.97" y2="364.60" stroke="#8c8c8c" stroke-width="1" />
<line x1="430.34" y1="349.20" x2="430.34" y2="389.00" stroke="#8c8c8c" stroke-width="1" />
<line x1="453.71" y1="349.20" x2="453.71" y2="364.60" stroke="#8c8c8c" stroke-width="1" />
<line x1="477.08" y1="349.20" x2="477.08" y2="389.00" stroke="#8c8c8c" stroke-width="1" />
<rect x="387.19" y="240.40" width="16.2" height="16.60" fill="#a0a0a0" stroke="#858585" stroke-width="0.8"/>
<rect x="387.19" y="257.00" width="16.2" height="92.20" fill="#fff" stroke="#8a8a8a" stroke-width="0.8"/>
<line x1="395.29" y1="235.50" x2="395.29" y2="240.40" stroke="#2a2a2a" stroke-width="1.2" />
<line x1="392.54" y1="235.50" x2="398.04" y2="235.50" stroke="#2a2a2a" stroke-width="1.2" />
<line x1="395.29" y1="240.90" x2="395.29" y2="257.00" stroke="#2a2a2a" stroke-width="1.2" />
<line x1="392.54" y1="240.90" x2="398.04" y2="240.90" stroke="#2a2a2a" stroke-width="1.2" />
<text transform="translate(395.29 362.00) scale(1 1.1)" font-size="8.3" text-anchor="middle" font-weight="normal" font-style="normal" fill="#1e1e1e" stroke="#1e1e1e" stroke-width="0.38" >7</text>
<rect x="410.56" y="254.40" width="16.2" height="28.80" fill="#a0a0a0" stroke="#858585" stroke-width="0.8"/>
<rect x="410.56" y="283.20" width="16.2" height="66.00" fill="#fff" stroke="#8a8a8a" stroke-width="0.8"/>
<line x1="418.66" y1="250.80" x2="418.66" y2="254.40" stroke="#2a2a2a" stroke-width="1.2" />
<line x1="415.91" y1="250.80" x2="421.41" y2="250.80" stroke="#2a2a2a" stroke-width="1.2" />
<line x1="418.66" y1="276.60" x2="418.66" y2="283.20" stroke="#2a2a2a" stroke-width="1.2" />
<line x1="415.91" y1="276.60" x2="421.41" y2="276.60" stroke="#2a2a2a" stroke-width="1.2" />
<text transform="translate(418.66 362.00) scale(1 1.1)" font-size="8.3" text-anchor="middle" font-weight="normal" font-style="normal" fill="#1e1e1e" stroke="#1e1e1e" stroke-width="0.38" >14</text>
<rect x="433.93" y="288.00" width="16.2" height="4.70" fill="#a0a0a0" stroke="#858585" stroke-width="0.8"/>
<rect x="433.93" y="292.70" width="16.2" height="56.50" fill="#fff" stroke="#8a8a8a" stroke-width="0.8"/>
<line x1="442.03" y1="285.80" x2="442.03" y2="288.00" stroke="#2a2a2a" stroke-width="1.2" />
<line x1="439.28" y1="285.80" x2="444.78" y2="285.80" stroke="#2a2a2a" stroke-width="1.2" />
<line x1="442.03" y1="288.20" x2="442.03" y2="292.70" stroke="#2a2a2a" stroke-width="1.2" />
<line x1="439.28" y1="288.20" x2="444.78" y2="288.20" stroke="#2a2a2a" stroke-width="1.2" />
<text transform="translate(442.03 362.00) scale(1 1.1)" font-size="8.3" text-anchor="middle" font-weight="normal" font-style="normal" fill="#1e1e1e" stroke="#1e1e1e" stroke-width="0.38" >7</text>
<rect x="457.30" y="287.00" width="16.2" height="37.60" fill="#a0a0a0" stroke="#858585" stroke-width="0.8"/>
<rect x="457.30" y="324.60" width="16.2" height="24.60" fill="#fff" stroke="#8a8a8a" stroke-width="0.8"/>
<line x1="465.40" y1="278.00" x2="465.40" y2="287.00" stroke="#2a2a2a" stroke-width="1.2" />
<line x1="462.65" y1="278.00" x2="468.15" y2="278.00" stroke="#2a2a2a" stroke-width="1.2" />
<line x1="465.40" y1="319.30" x2="465.40" y2="324.60" stroke="#2a2a2a" stroke-width="1.2" />
<line x1="462.65" y1="319.30" x2="468.15" y2="319.30" stroke="#2a2a2a" stroke-width="1.2" />
<text transform="translate(465.40 362.00) scale(1 1.1)" font-size="8.3" text-anchor="middle" font-weight="normal" font-style="normal" fill="#1e1e1e" stroke="#1e1e1e" stroke-width="0.38" >14</text>
<text transform="translate(406.97 377.10) scale(1 1.08)" font-size="8.0" text-anchor="middle" font-weight="normal" font-style="normal" fill="#1e1e1e" stroke="#1e1e1e" stroke-width="0.22" >Hamp-KO</text>
<text transform="translate(406.97 386.10) scale(1 1.08)" font-size="8.0" text-anchor="middle" font-weight="normal" font-style="normal" fill="#1e1e1e" stroke="#1e1e1e" stroke-width="0.22" >PBS</text>
<text transform="translate(453.71 377.10) scale(1 1.08)" font-size="8.0" text-anchor="middle" font-weight="normal" font-style="normal" fill="#1e1e1e" stroke="#1e1e1e" stroke-width="0.22" >Hamp-KO</text>
<text transform="translate(453.71 386.10) scale(1 1.08)" font-size="8.0" text-anchor="middle" font-weight="normal" font-style="normal" fill="#1e1e1e" stroke="#1e1e1e" stroke-width="0.22" >BA</text>
<text x="47.00" y="275.50" font-size="10" text-anchor="middle" font-weight="normal" font-style="normal" fill="#1e1e1e" stroke="#1e1e1e" stroke-width="0.22" transform="rotate(-90 47 276)">Total RBC (10<tspan font-size="6.6" dy="-3.0">6</tspan><tspan dy="3.0">cells/ </tspan><tspan font-style="italic">μ</tspan> L)</text>
<path d="M41.7,333.8 L41.7,387.3 L78.6,387.3" fill="none" stroke="#111" stroke-width="1.8"/>
<path d="M37.400000000000006,339.3 L41.7,333.6 L46.0,339.3" fill="none" stroke="#111" stroke-width="1.8"/>
<path d="M73.1,383.0 L78.8,387.3 L73.1,391.6" fill="none" stroke="#111" stroke-width="1.8"/>
<text x="90.80" y="391.20" font-size="10" text-anchor="start" font-weight="normal" font-style="normal" fill="#111" stroke="#111" stroke-width="0.22" >Days</text>
<line x1="42.00" y1="408.60" x2="42.00" y2="501.30" stroke="#8c8c8c" stroke-width="1" />
<line x1="39.50" y1="408.60" x2="42.00" y2="408.60" stroke="#8c8c8c" stroke-width="1" />
<text transform="translate(34.80 412.00) scale(1 1.1)" font-size="8.3" text-anchor="end" font-weight="normal" font-style="normal" fill="#1e1e1e" stroke="#1e1e1e" stroke-width="0.38" >14</text>
<line x1="39.50" y1="421.84" x2="42.00" y2="421.84" stroke="#8c8c8c" stroke-width="1" />
<text transform="translate(34.80 425.24) scale(1 1.1)" font-size="8.3" text-anchor="end" font-weight="normal" font-style="normal" fill="#1e1e1e" stroke="#1e1e1e" stroke-width="0.38" >12</text>
<line x1="39.50" y1="435.09" x2="42.00" y2="435.09" stroke="#8c8c8c" stroke-width="1" />
<text transform="translate(34.80 438.49) scale(1 1.1)" font-size="8.3" text-anchor="end" font-weight="normal" font-style="normal" fill="#1e1e1e" stroke="#1e1e1e" stroke-width="0.38" >10</text>
<line x1="39.50" y1="448.33" x2="42.00" y2="448.33" stroke="#8c8c8c" stroke-width="1" />
<text transform="translate(34.80 451.73) scale(1 1.1)" font-size="8.3" text-anchor="end" font-weight="normal" font-style="normal" fill="#1e1e1e" stroke="#1e1e1e" stroke-width="0.38" >8</text>
<line x1="39.50" y1="461.57" x2="42.00" y2="461.57" stroke="#8c8c8c" stroke-width="1" />
<text transform="translate(34.80 464.97) scale(1 1.1)" font-size="8.3" text-anchor="end" font-weight="normal" font-style="normal" fill="#1e1e1e" stroke="#1e1e1e" stroke-width="0.38" >6</text>
<line x1="39.50" y1="474.81" x2="42.00" y2="474.81" stroke="#8c8c8c" stroke-width="1" />
<text transform="translate(34.80 478.21) scale(1 1.1)" font-size="8.3" text-anchor="end" font-weight="normal" font-style="normal" fill="#1e1e1e" stroke="#1e1e1e" stroke-width="0.38" >4</text>
<line x1="39.50" y1="488.06" x2="42.00" y2="488.06" stroke="#8c8c8c" stroke-width="1" />
<text transform="translate(34.80 491.46) scale(1 1.1)" font-size="8.3" text-anchor="end" font-weight="normal" font-style="normal" fill="#1e1e1e" stroke="#1e1e1e" stroke-width="0.38" >2</text>
<line x1="39.50" y1="501.30" x2="42.00" y2="501.30" stroke="#8c8c8c" stroke-width="1" />
<text transform="translate(34.80 504.70) scale(1 1.1)" font-size="8.3" text-anchor="end" font-weight="normal" font-style="normal" fill="#1e1e1e" stroke="#1e1e1e" stroke-width="0.38" >0</text>
<line x1="42.00" y1="501.30" x2="187.10" y2="501.30" stroke="#8c8c8c" stroke-width="1" />
<line x1="42.50" y1="501.30" x2="42.50" y2="503.80" stroke="#8c8c8c" stroke-width="1" />
<line x1="90.70" y1="501.30" x2="90.70" y2="503.80" stroke="#8c8c8c" stroke-width="1" />
<line x1="138.90" y1="501.30" x2="138.90" y2="503.80" stroke="#8c8c8c" stroke-width="1" />
<line x1="187.10" y1="501.30" x2="187.10" y2="503.80" stroke="#8c8c8c" stroke-width="1" />
<text transform="translate(66.60 515.10) scale(1 1.1)" font-size="8.3" text-anchor="middle" font-weight="normal" font-style="normal" fill="#1e1e1e" stroke="#1e1e1e" stroke-width="0.38" >0</text>
<text transform="translate(114.80 515.10) scale(1 1.1)" font-size="8.3" text-anchor="middle" font-weight="normal" font-style="normal" fill="#1e1e1e" stroke="#1e1e1e" stroke-width="0.38" >7</text>
<text transform="translate(163.00 515.10) scale(1 1.1)" font-size="8.3" text-anchor="middle" font-weight="normal" font-style="normal" fill="#1e1e1e" stroke="#1e1e1e" stroke-width="0.38" >14</text>
<line x1="66.60" y1="416.20" x2="66.60" y2="433.80" stroke="#2a2a2a" stroke-width="1.2" />
<line x1="63.85" y1="416.20" x2="69.35" y2="416.20" stroke="#2a2a2a" stroke-width="1.2" />
<line x1="63.85" y1="433.80" x2="69.35" y2="433.80" stroke="#2a2a2a" stroke-width="1.2" />
<line x1="66.60" y1="417.30" x2="66.60" y2="434.90" stroke="#2a2a2a" stroke-width="1.2" />
<line x1="63.85" y1="417.30" x2="69.35" y2="417.30" stroke="#2a2a2a" stroke-width="1.2" />
<line x1="63.85" y1="434.90" x2="69.35" y2="434.90" stroke="#2a2a2a" stroke-width="1.2" />
<line x1="114.80" y1="432.30" x2="114.80" y2="453.00" stroke="#2a2a2a" stroke-width="1.2" />
<line x1="112.05" y1="432.30" x2="117.55" y2="432.30" stroke="#2a2a2a" stroke-width="1.2" />
<line x1="112.05" y1="453.00" x2="117.55" y2="453.00" stroke="#2a2a2a" stroke-width="1.2" />
<line x1="114.80" y1="450.00" x2="114.80" y2="464.00" stroke="#2a2a2a" stroke-width="1.2" />
<line x1="112.05" y1="450.00" x2="117.55" y2="450.00" stroke="#2a2a2a" stroke-width="1.2" />
<line x1="112.05" y1="464.00" x2="117.55" y2="464.00" stroke="#2a2a2a" stroke-width="1.2" />
<line x1="163.00" y1="453.80" x2="163.00" y2="470.80" stroke="#2a2a2a" stroke-width="1.2" />
<line x1="160.25" y1="453.80" x2="165.75" y2="453.80" stroke="#2a2a2a" stroke-width="1.2" />
<line x1="160.25" y1="470.80" x2="165.75" y2="470.80" stroke="#2a2a2a" stroke-width="1.2" />
<path d="M66.60,425.80 L114.80,443.10 L163.00,462.80" fill="none" stroke="#000" stroke-width="2.2"/>
<circle cx="66.60" cy="425.80" r="3.85" fill="#000"/>
<circle cx="114.80" cy="443.10" r="3.85" fill="#000"/>
<circle cx="163.00" cy="462.80" r="3.85" fill="#000"/>
<path d="M66.60,424.60 L114.80,456.30 L163.00,483.70" fill="none" stroke="#000" stroke-width="1.9" stroke-dasharray="1.9,1.9"/>
<circle cx="66.60" cy="424.60" r="3.55" fill="#fff" stroke="#000" stroke-width="1.25"/>
<circle cx="114.80" cy="456.30" r="3.55" fill="#fff" stroke="#000" stroke-width="1.25"/>
<circle cx="163.00" cy="483.70" r="3.55" fill="#fff" stroke="#000" stroke-width="1.25"/>
<line x1="114.60" y1="468.20" x2="114.60" y2="472.40" stroke="#363636" stroke-width="1.35"/>
<line x1="112.78" y1="469.25" x2="116.42" y2="471.35" stroke="#363636" stroke-width="1.35"/>
<line x1="112.78" y1="471.35" x2="116.42" y2="469.25" stroke="#363636" stroke-width="1.35"/>
<line x1="157.40" y1="491.70" x2="157.40" y2="495.90" stroke="#363636" stroke-width="1.35"/>
<line x1="155.58" y1="492.75" x2="159.22" y2="494.85" stroke="#363636" stroke-width="1.35"/>
<line x1="155.58" y1="494.85" x2="159.22" y2="492.75" stroke="#363636" stroke-width="1.35"/>
<line x1="162.80" y1="491.70" x2="162.80" y2="495.90" stroke="#363636" stroke-width="1.35"/>
<line x1="160.98" y1="492.75" x2="164.62" y2="494.85" stroke="#363636" stroke-width="1.35"/>
<line x1="160.98" y1="494.85" x2="164.62" y2="492.75" stroke="#363636" stroke-width="1.35"/>
<line x1="168.20" y1="491.70" x2="168.20" y2="495.90" stroke="#363636" stroke-width="1.35"/>
<line x1="166.38" y1="492.75" x2="170.02" y2="494.85" stroke="#363636" stroke-width="1.35"/>
<line x1="166.38" y1="494.85" x2="170.02" y2="492.75" stroke="#363636" stroke-width="1.35"/>
<line x1="52.00" y1="478.90" x2="77.50" y2="478.90" stroke="#000" stroke-width="2.2" />
<circle cx="65" cy="478.9" r="3.7" fill="#000"/>
<text x="80.30" y="482.80" font-size="9.6" text-anchor="start" font-weight="normal" font-style="normal" fill="#111" stroke="#111" stroke-width="0.22" >PBS</text>
<line x1="52.00" y1="492.80" x2="77.50" y2="492.80" stroke="#000" stroke-width="1.9" stroke-dasharray="1.9,1.9"/>
<circle cx="65" cy="492.8" r="3.4" fill="#fff" stroke="#000" stroke-width="1.25"/>
<text x="80.30" y="496.90" font-size="9.6" text-anchor="start" font-weight="normal" font-style="normal" fill="#111" stroke="#111" stroke-width="0.22" >BA</text>
<text x="8.20" y="451.30" font-size="9.9" text-anchor="middle" font-weight="normal" font-style="normal" fill="#1e1e1e" stroke="#1e1e1e" stroke-width="0.3" transform="rotate(-90 8.2 451.3)">Biotinylated RBC</text>
<text x="19.50" y="451.00" font-size="9.9" text-anchor="middle" font-weight="normal" font-style="normal" fill="#1e1e1e" stroke="#1e1e1e" stroke-width="0.22" transform="rotate(-90 19.5 451)">(10<tspan font-size="6.6" dy="-3.0">6</tspan><tspan dy="3.0">cells/ </tspan><tspan font-style="italic">μ</tspan> L)</text>
<path d="M10.8,501.8 L10.8,539.2 L48.2,539.2" fill="none" stroke="#111" stroke-width="1.8"/>
<path d="M6.500000000000001,507.3 L10.8,501.6 L15.100000000000001,507.3" fill="none" stroke="#111" stroke-width="1.8"/>
<path d="M42.7,534.9000000000001 L48.400000000000006,539.2 L42.7,543.5" fill="none" stroke="#111" stroke-width="1.8"/>
<text x="59.60" y="541.70" font-size="10" text-anchor="start" font-weight="normal" font-style="normal" fill="#111" stroke="#111" stroke-width="0.22" >Days</text>
<line x1="210.30" y1="408.60" x2="210.30" y2="502.20" stroke="#8c8c8c" stroke-width="1" />
<line x1="207.80" y1="408.60" x2="210.30" y2="408.60" stroke="#8c8c8c" stroke-width="1" />
<text transform="translate(202.50 412.00) scale(1 1.1)" font-size="8.3" text-anchor="end" font-weight="normal" font-style="normal" fill="#1e1e1e" stroke="#1e1e1e" stroke-width="0.38" >14</text>
<line x1="207.80" y1="421.97" x2="210.30" y2="421.97" stroke="#8c8c8c" stroke-width="1" />
<text transform="translate(202.50 425.37) scale(1 1.1)" font-size="8.3" text-anchor="end" font-weight="normal" font-style="normal" fill="#1e1e1e" stroke="#1e1e1e" stroke-width="0.38" >12</text>
<line x1="207.80" y1="435.34" x2="210.30" y2="435.34" stroke="#8c8c8c" stroke-width="1" />
<text transform="translate(202.50 438.74) scale(1 1.1)" font-size="8.3" text-anchor="end" font-weight="normal" font-style="normal" fill="#1e1e1e" stroke="#1e1e1e" stroke-width="0.38" >10</text>
<line x1="207.80" y1="448.71" x2="210.30" y2="448.71" stroke="#8c8c8c" stroke-width="1" />
<text transform="translate(202.50 452.11) scale(1 1.1)" font-size="8.3" text-anchor="end" font-weight="normal" font-style="normal" fill="#1e1e1e" stroke="#1e1e1e" stroke-width="0.38" >8</text>
<line x1="207.80" y1="462.09" x2="210.30" y2="462.09" stroke="#8c8c8c" stroke-width="1" />
<text transform="translate(202.50 465.49) scale(1 1.1)" font-size="8.3" text-anchor="end" font-weight="normal" font-style="normal" fill="#1e1e1e" stroke="#1e1e1e" stroke-width="0.38" >6</text>
<line x1="207.80" y1="475.46" x2="210.30" y2="475.46" stroke="#8c8c8c" stroke-width="1" />
<text transform="translate(202.50 478.86) scale(1 1.1)" font-size="8.3" text-anchor="end" font-weight="normal" font-style="normal" fill="#1e1e1e" stroke="#1e1e1e" stroke-width="0.38" >4</text>
<line x1="207.80" y1="488.83" x2="210.30" y2="488.83" stroke="#8c8c8c" stroke-width="1" />
<text transform="translate(202.50 492.23) scale(1 1.1)" font-size="8.3" text-anchor="end" font-weight="normal" font-style="normal" fill="#1e1e1e" stroke="#1e1e1e" stroke-width="0.38" >2</text>
<line x1="207.80" y1="502.20" x2="210.30" y2="502.20" stroke="#8c8c8c" stroke-width="1" />
<text transform="translate(202.50 505.60) scale(1 1.1)" font-size="8.3" text-anchor="end" font-weight="normal" font-style="normal" fill="#1e1e1e" stroke="#1e1e1e" stroke-width="0.38" >0</text>
<line x1="210.30" y1="502.20" x2="348.90" y2="502.20" stroke="#8c8c8c" stroke-width="1" />
<line x1="210.30" y1="502.20" x2="210.30" y2="504.70" stroke="#8c8c8c" stroke-width="1" />
<line x1="256.50" y1="502.20" x2="256.50" y2="504.70" stroke="#8c8c8c" stroke-width="1" />
<line x1="302.70" y1="502.20" x2="302.70" y2="504.70" stroke="#8c8c8c" stroke-width="1" />
<line x1="348.90" y1="502.20" x2="348.90" y2="504.70" stroke="#8c8c8c" stroke-width="1" />
<text transform="translate(233.40 516.00) scale(1 1.1)" font-size="8.3" text-anchor="middle" font-weight="normal" font-style="normal" fill="#1e1e1e" stroke="#1e1e1e" stroke-width="0.38" >0</text>
<text transform="translate(279.60 516.00) scale(1 1.1)" font-size="8.3" text-anchor="middle" font-weight="normal" font-style="normal" fill="#1e1e1e" stroke="#1e1e1e" stroke-width="0.38" >7</text>
<text transform="translate(325.80 516.00) scale(1 1.1)" font-size="8.3" text-anchor="middle" font-weight="normal" font-style="normal" fill="#1e1e1e" stroke="#1e1e1e" stroke-width="0.38" >14</text>
<line x1="233.40" y1="420.00" x2="233.40" y2="447.10" stroke="#2a2a2a" stroke-width="1.2" />
<line x1="230.65" y1="420.00" x2="236.15" y2="420.00" stroke="#2a2a2a" stroke-width="1.2" />
<line x1="230.65" y1="447.10" x2="236.15" y2="447.10" stroke="#2a2a2a" stroke-width="1.2" />
<line x1="279.60" y1="429.80" x2="279.60" y2="448.00" stroke="#2a2a2a" stroke-width="1.2" />
<line x1="276.85" y1="429.80" x2="282.35" y2="429.80" stroke="#2a2a2a" stroke-width="1.2" />
<line x1="276.85" y1="448.00" x2="282.35" y2="448.00" stroke="#2a2a2a" stroke-width="1.2" />
<line x1="279.60" y1="464.00" x2="279.60" y2="480.60" stroke="#2a2a2a" stroke-width="1.2" />
<line x1="276.85" y1="464.00" x2="282.35" y2="464.00" stroke="#2a2a2a" stroke-width="1.2" />
<line x1="276.85" y1="480.60" x2="282.35" y2="480.60" stroke="#2a2a2a" stroke-width="1.2" />
<line x1="325.80" y1="462.20" x2="325.80" y2="473.00" stroke="#2a2a2a" stroke-width="1.2" />
<line x1="323.05" y1="462.20" x2="328.55" y2="462.20" stroke="#2a2a2a" stroke-width="1.2" />
<line x1="323.05" y1="473.00" x2="328.55" y2="473.00" stroke="#2a2a2a" stroke-width="1.2" />
<line x1="325.80" y1="475.00" x2="325.80" y2="489.20" stroke="#2a2a2a" stroke-width="1.2" />
<line x1="323.05" y1="475.00" x2="328.55" y2="475.00" stroke="#2a2a2a" stroke-width="1.2" />
<line x1="323.05" y1="489.20" x2="328.55" y2="489.20" stroke="#2a2a2a" stroke-width="1.2" />
<path d="M233.40,433.80 L279.60,448.30 L325.80,472.90" fill="none" stroke="#000" stroke-width="2.2"/>
<circle cx="233.40" cy="433.80" r="3.85" fill="#000"/>
<circle cx="279.60" cy="448.30" r="3.85" fill="#000"/>
<circle cx="325.80" cy="472.90" r="3.85" fill="#000"/>
<path d="M233.40,433.80 L279.60,472.30 L325.80,480.60" fill="none" stroke="#000" stroke-width="1.9" stroke-dasharray="1.9,1.9"/>
<circle cx="233.40" cy="433.80" r="3.55" fill="#fff" stroke="#000" stroke-width="1.25"/>
<circle cx="279.60" cy="472.30" r="3.55" fill="#fff" stroke="#000" stroke-width="1.25"/>
<circle cx="325.80" cy="480.60" r="3.55" fill="#fff" stroke="#000" stroke-width="1.25"/>
<line x1="279.50" y1="483.70" x2="279.50" y2="487.90" stroke="#363636" stroke-width="1.35"/>
<line x1="277.68" y1="484.75" x2="281.32" y2="486.85" stroke="#363636" stroke-width="1.35"/>
<line x1="277.68" y1="486.85" x2="281.32" y2="484.75" stroke="#363636" stroke-width="1.35"/>
<line x1="372.30" y1="408.60" x2="372.30" y2="502.20" stroke="#8c8c8c" stroke-width="1" />
<line x1="369.80" y1="408.60" x2="372.30" y2="408.60" stroke="#8c8c8c" stroke-width="1" />
<text transform="translate(364.50 412.00) scale(1 1.1)" font-size="8.3" text-anchor="end" font-weight="normal" font-style="normal" fill="#1e1e1e" stroke="#1e1e1e" stroke-width="0.38" >14</text>
<line x1="369.80" y1="421.97" x2="372.30" y2="421.97" stroke="#8c8c8c" stroke-width="1" />
<text transform="translate(364.50 425.37) scale(1 1.1)" font-size="8.3" text-anchor="end" font-weight="normal" font-style="normal" fill="#1e1e1e" stroke="#1e1e1e" stroke-width="0.38" >12</text>
<line x1="369.80" y1="435.34" x2="372.30" y2="435.34" stroke="#8c8c8c" stroke-width="1" />
<text transform="translate(364.50 438.74) scale(1 1.1)" font-size="8.3" text-anchor="end" font-weight="normal" font-style="normal" fill="#1e1e1e" stroke="#1e1e1e" stroke-width="0.38" >10</text>
<line x1="369.80" y1="448.71" x2="372.30" y2="448.71" stroke="#8c8c8c" stroke-width="1" />
<text transform="translate(364.50 452.11) scale(1 1.1)" font-size="8.3" text-anchor="end" font-weight="normal" font-style="normal" fill="#1e1e1e" stroke="#1e1e1e" stroke-width="0.38" >8</text>
<line x1="369.80" y1="462.09" x2="372.30" y2="462.09" stroke="#8c8c8c" stroke-width="1" />
<text transform="translate(364.50 465.49) scale(1 1.1)" font-size="8.3" text-anchor="end" font-weight="normal" font-style="normal" fill="#1e1e1e" stroke="#1e1e1e" stroke-width="0.38" >6</text>
<line x1="369.80" y1="475.46" x2="372.30" y2="475.46" stroke="#8c8c8c" stroke-width="1" />
<text transform="translate(364.50 478.86) scale(1 1.1)" font-size="8.3" text-anchor="end" font-weight="normal" font-style="normal" fill="#1e1e1e" stroke="#1e1e1e" stroke-width="0.38" >4</text>
<line x1="369.80" y1="488.83" x2="372.30" y2="488.83" stroke="#8c8c8c" stroke-width="1" />
<text transform="translate(364.50 492.23) scale(1 1.1)" font-size="8.3" text-anchor="end" font-weight="normal" font-style="normal" fill="#1e1e1e" stroke="#1e1e1e" stroke-width="0.38" >2</text>
<line x1="369.80" y1="502.20" x2="372.30" y2="502.20" stroke="#8c8c8c" stroke-width="1" />
<text transform="translate(364.50 505.60) scale(1 1.1)" font-size="8.3" text-anchor="end" font-weight="normal" font-style="normal" fill="#1e1e1e" stroke="#1e1e1e" stroke-width="0.38" >0</text>
<line x1="372.30" y1="502.20" x2="515.40" y2="502.20" stroke="#8c8c8c" stroke-width="1" />
<line x1="372.30" y1="502.20" x2="372.30" y2="504.70" stroke="#8c8c8c" stroke-width="1" />
<line x1="420.00" y1="502.20" x2="420.00" y2="504.70" stroke="#8c8c8c" stroke-width="1" />
<line x1="467.70" y1="502.20" x2="467.70" y2="504.70" stroke="#8c8c8c" stroke-width="1" />
<line x1="515.40" y1="502.20" x2="515.40" y2="504.70" stroke="#8c8c8c" stroke-width="1" />
<text transform="translate(396.15 516.00) scale(1 1.1)" font-size="8.3" text-anchor="middle" font-weight="normal" font-style="normal" fill="#1e1e1e" stroke="#1e1e1e" stroke-width="0.38" >0</text>
<text transform="translate(443.85 516.00) scale(1 1.1)" font-size="8.3" text-anchor="middle" font-weight="normal" font-style="normal" fill="#1e1e1e" stroke="#1e1e1e" stroke-width="0.38" >7</text>
<text transform="translate(491.55 516.00) scale(1 1.1)" font-size="8.3" text-anchor="middle" font-weight="normal" font-style="normal" fill="#1e1e1e" stroke="#1e1e1e" stroke-width="0.38" >14</text>
<line x1="396.15" y1="410.60" x2="396.15" y2="441.00" stroke="#2a2a2a" stroke-width="1.2" />
<line x1="393.40" y1="410.60" x2="398.90" y2="410.60" stroke="#2a2a2a" stroke-width="1.2" />
<line x1="393.40" y1="441.00" x2="398.90" y2="441.00" stroke="#2a2a2a" stroke-width="1.2" />
<line x1="396.15" y1="412.80" x2="396.15" y2="440.50" stroke="#2a2a2a" stroke-width="1.2" />
<line x1="393.40" y1="412.80" x2="398.90" y2="412.80" stroke="#2a2a2a" stroke-width="1.2" />
<line x1="393.40" y1="440.50" x2="398.90" y2="440.50" stroke="#2a2a2a" stroke-width="1.2" />
<line x1="443.85" y1="422.20" x2="443.85" y2="451.70" stroke="#2a2a2a" stroke-width="1.2" />
<line x1="441.10" y1="422.20" x2="446.60" y2="422.20" stroke="#2a2a2a" stroke-width="1.2" />
<line x1="441.10" y1="451.70" x2="446.60" y2="451.70" stroke="#2a2a2a" stroke-width="1.2" />
<line x1="443.85" y1="458.00" x2="443.85" y2="466.00" stroke="#2a2a2a" stroke-width="1.2" />
<line x1="441.10" y1="458.00" x2="446.60" y2="458.00" stroke="#2a2a2a" stroke-width="1.2" />
<line x1="441.10" y1="466.00" x2="446.60" y2="466.00" stroke="#2a2a2a" stroke-width="1.2" />
<line x1="491.55" y1="451.40" x2="491.55" y2="460.60" stroke="#2a2a2a" stroke-width="1.2" />
<line x1="488.80" y1="451.40" x2="494.30" y2="451.40" stroke="#2a2a2a" stroke-width="1.2" />
<line x1="488.80" y1="460.60" x2="494.30" y2="460.60" stroke="#2a2a2a" stroke-width="1.2" />
<path d="M396.15,427.60 L443.85,436.90 L491.55,456.00" fill="none" stroke="#000" stroke-width="2.2"/>
<circle cx="396.15" cy="427.60" r="3.85" fill="#000"/>
<circle cx="443.85" cy="436.90" r="3.85" fill="#000"/>
<circle cx="491.55" cy="456.00" r="3.85" fill="#000"/>
<path d="M396.15,425.90 L443.85,462.50 L491.55,485.20" fill="none" stroke="#000" stroke-width="1.9" stroke-dasharray="1.9,1.9"/>
<circle cx="396.15" cy="425.90" r="3.55" fill="#fff" stroke="#000" stroke-width="1.25"/>
<circle cx="443.85" cy="462.50" r="3.55" fill="#fff" stroke="#000" stroke-width="1.25"/>
<circle cx="491.55" cy="485.20" r="3.55" fill="#fff" stroke="#000" stroke-width="1.25"/>
<line x1="441.30" y1="471.30" x2="441.30" y2="475.50" stroke="#363636" stroke-width="1.35"/>
<line x1="439.48" y1="472.35" x2="443.12" y2="474.45" stroke="#363636" stroke-width="1.35"/>
<line x1="439.48" y1="474.45" x2="443.12" y2="472.35" stroke="#363636" stroke-width="1.35"/>
<line x1="446.70" y1="471.30" x2="446.70" y2="475.50" stroke="#363636" stroke-width="1.35"/>
<line x1="444.88" y1="472.35" x2="448.52" y2="474.45" stroke="#363636" stroke-width="1.35"/>
<line x1="444.88" y1="474.45" x2="448.52" y2="472.35" stroke="#363636" stroke-width="1.35"/>
<line x1="487.30" y1="491.50" x2="487.30" y2="495.70" stroke="#363636" stroke-width="1.35"/>
<line x1="485.48" y1="492.55" x2="489.12" y2="494.65" stroke="#363636" stroke-width="1.35"/>
<line x1="485.48" y1="494.65" x2="489.12" y2="492.55" stroke="#363636" stroke-width="1.35"/>
<line x1="492.70" y1="491.50" x2="492.70" y2="495.70" stroke="#363636" stroke-width="1.35"/>
<line x1="490.88" y1="492.55" x2="494.52" y2="494.65" stroke="#363636" stroke-width="1.35"/>
<line x1="490.88" y1="494.65" x2="494.52" y2="492.55" stroke="#363636" stroke-width="1.35"/>
<line x1="498.10" y1="491.50" x2="498.10" y2="495.70" stroke="#363636" stroke-width="1.35"/>
<line x1="496.28" y1="492.55" x2="499.92" y2="494.65" stroke="#363636" stroke-width="1.35"/>
<line x1="496.28" y1="494.65" x2="499.92" y2="492.55" stroke="#363636" stroke-width="1.35"/>
</svg>
</body></html>
